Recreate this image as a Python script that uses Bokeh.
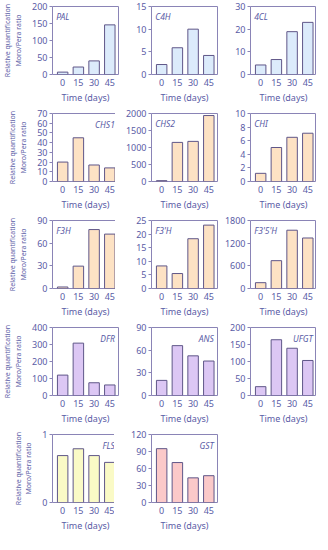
from bokeh.plotting import figure
from bokeh.layouts import gridplot
from bokeh.models import FixedTicker, Label, Range1d
from bokeh.embed import file_html
from bokeh.resources import INLINE

# ---- data ----
days = [0, 15, 30, 45]
day_labels = ["0", "15", "30", "45"]

genes = ["PAL", "C4H", "4CL",
         "CHS1", "CHS2", "CHI",
         "F3H", "F3'H", "F3'5'H",
         "DFR", "ANS", "UFGT",
         "FLS", "GST"]

PAL = [7, 22, 40, 146]
C4H = [2.2, 5.9, 10.0, 4.2]
CL4 = [4.2, 6.6, 18.9, 23.0]
CHS1 = [20, 45, 17, 14]
CHS2 = [25, 1150, 1180, 1940]
CHI = [1.2, 5.0, 6.5, 7.1]
F3H = [2, 29.6, 78, 72]
F3pH = [8.3, 5.5, 18.3, 23.3]
F35H = [154, 737, 1543, 1337]
DFR = [120, 308, 75, 62]
ANS = [20, 66, 52.5, 45.6]
UFGT = [26, 164, 139, 103]
FLS = [0.69, 0.79, 0.69, 0.59]
GST = [95, 70.5, 43.5, 47.3]

values = [PAL, C4H, CL4, CHS1, CHS2, CHI, F3H, F3pH, F35H, DFR, ANS, UFGT, FLS, GST]

y_ticks = [
    [0, 50, 100, 150, 200], [0, 5, 10, 15], [0, 10, 20, 30],
    [0, 10, 20, 30, 40, 50, 60, 70], [0, 500, 1000, 1500, 2000], [0, 2, 4, 6, 8, 10],
    [0, 30, 60, 90], [0, 5, 10, 15, 20, 25], [0, 600, 1200, 1800],
    [0, 100, 200, 300, 400], [0, 30, 60, 90], [0, 50, 100, 150, 200],
    [0, 1], [0, 30, 60, 90, 120],
]

label_side = ["left", "left", "left",
              "right", "left", "left",
              "left", "left", "left",
              "right", "right", "right",
              "right", "right"]

BLUE, PEACH, LILAC, YELLOW, PINK = "#dcebfb", "#fde2c4", "#dcc7f4", "#fafac6", "#fbc9c9"
fills = [BLUE] * 3 + [PEACH] * 6 + [LILAC] * 3 + [YELLOW, PINK]

# ---- style ----
TEXT = "#5a5ca6"
FRAME = "#8a84b6"
OUTLINE = "#5f5688"
FONT = "Noto Sans"

FRAME_W = 66
FRAME_H = 68
TOP = 6


def make(i, col, rowi):
    left = 46 if col == 0 else 31
    right = 2 if col < 2 else 0
    bottom = 33 if rowi < 4 else 32
    ticks = y_ticks[i]
    xs, xe = -9.7, 53.3
    p = figure(frame_width=FRAME_W, frame_height=FRAME_H,
               x_range=Range1d(xs, xe), y_range=Range1d(0, ticks[-1]),
               output_backend="svg", toolbar_location=None,
               min_border_left=left, min_border_right=right,
               min_border_top=TOP, min_border_bottom=bottom)
    p.vbar(x=days, top=values[i], width=10, fill_color=fills[i],
           line_color=OUTLINE, line_width=1)
    p.xgrid.visible = False
    p.ygrid.visible = False
    p.outline_line_color = FRAME
    p.outline_line_width = 1
    p.background_fill_color = "white"
    p.border_fill_color = "white"

    p.xaxis.ticker = FixedTicker(ticks=days)
    p.xaxis.major_label_overrides = {d: s for d, s in zip(days, day_labels)}
    p.yaxis.ticker = FixedTicker(ticks=ticks)
    for ax in (p.xaxis, p.yaxis):
        ax.axis_line_color = None
        ax.minor_tick_line_color = None
        ax.minor_tick_in = 0
        ax.minor_tick_out = 0
        ax.major_label_text_font = FONT
        ax.major_label_text_font_size = "9px"
        ax.major_label_text_color = TEXT
        ax.axis_label_text_font = FONT
        ax.axis_label_text_font_style = "normal"
        ax.axis_label_text_color = TEXT
    p.xaxis.major_tick_line_color = None
    p.xaxis.major_tick_in = 0
    p.xaxis.major_tick_out = 0
    p.xaxis.major_label_standoff = 4
    p.xaxis.axis_label = "Time (days)"
    p.xaxis.axis_label_text_font_size = "9px"
    p.xaxis.axis_label_standoff = 2
    p.yaxis.major_tick_in = 0
    p.yaxis.major_tick_out = 3
    p.yaxis.major_tick_line_color = FRAME
    p.yaxis.major_label_standoff = 2
    if col == 0:
        p.yaxis.axis_label = "Relative quantification\nMoro/Pera ratio"
        p.yaxis.axis_label_text_font_size = "7px"
        p.yaxis.axis_label_standoff = 6

    ymax = ticks[-1]
    if label_side[i] == "left":
        lab = Label(x=xs + 3.5, y=ymax * (1 - 4.0 / FRAME_H), text=genes[i],
                    text_align="left", text_baseline="top")
    else:
        lab = Label(x=xe - 3.5, y=ymax * (1 - 5.0 / FRAME_H), text=genes[i],
                    text_align="right", text_baseline="top")
    lab.text_font = FONT
    lab.text_font_size = "8.5px"
    lab.text_font_style = "italic"
    lab.text_color = TEXT
    p.add_layout(lab)
    return p


rows = []
idx = 0
for r in range(5):
    row = []
    for c in range(3):
        if idx < len(genes) and not (r == 4 and c == 2):
            row.append(make(idx, c, r))
            idx += 1
        else:
            row.append(None)
    rows.append(row)

grid = gridplot(rows, toolbar_location=None)

open("out.html", "w").write(file_html(grid, INLINE))
